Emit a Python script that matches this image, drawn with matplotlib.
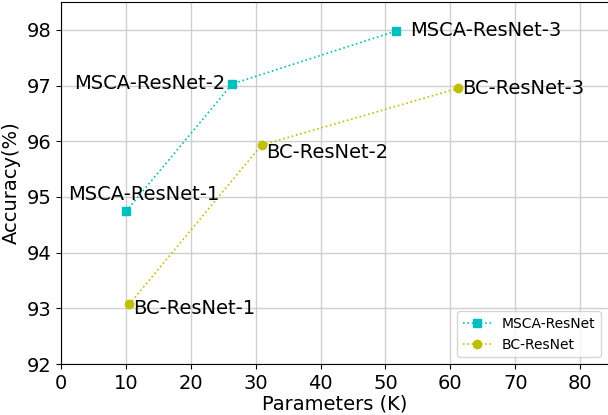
import matplotlib.pyplot as plt

msca_params = [10.0, 26.4, 51.7]
msca_acc = [94.74, 97.03, 97.98]
msca_names = ["MSCA-ResNet-1", "MSCA-ResNet-2", "MSCA-ResNet-3"]

bc_params = [10.5, 30.9, 61.2]
bc_acc = [93.07, 95.93, 96.95]
bc_names = ["BC-ResNet-1", "BC-ResNet-2", "BC-ResNet-3"]

x_ticks = [0, 10, 20, 30, 40, 50, 60, 70, 80]
y_ticks = [92, 93, 94, 95, 96, 97, 98]

fig = plt.figure(figsize=(6.08, 4.15), dpi=100)
ax = fig.add_axes([61 / 608, 51 / 415, 547 / 608, 362 / 415])

ax.plot(msca_params, msca_acc, ls=":", color="c", marker="s", ms=6,
        lw=1.2, label="MSCA-ResNet", zorder=3)
ax.plot(bc_params, bc_acc, ls=":", color="y", marker="o", ms=6,
        lw=1.2, label="BC-ResNet", zorder=3)

# label offsets (points) per model
msca_off = [(13, 12, "center"), (-5, 0, "right"), (10, 0, "left")]
bc_off = [(3, -3, "left"), (3, -5, "left"), (3, 0, "left")]
for x, y, name, (dx, dy, ha) in zip(msca_params, msca_acc, msca_names, msca_off):
    ax.annotate(name, (x, y), xytext=(dx, dy), textcoords="offset points",
                ha=ha, va="center", fontsize=14)
for x, y, name, (dx, dy, ha) in zip(bc_params, bc_acc, bc_names, bc_off):
    ax.annotate(name, (x, y), xytext=(dx, dy), textcoords="offset points",
                ha=ha, va="center", fontsize=14)

ax.set_xlim(0, 84.3)
ax.set_ylim(92, 98.5)
ax.set_xticks(x_ticks)
ax.set_yticks(y_ticks)
ax.tick_params(labelsize=14)
ax.set_xlabel("Parameters (K)", fontsize=14, labelpad=1)
ax.set_ylabel("Accuracy(%)", fontsize=14)
ax.grid(True, color="#d0d0d0", lw=1)
ax.set_axisbelow(True)
ax.spines["right"].set_visible(False)
ax.legend(loc="lower right", fontsize=10)

fig.savefig("out.png", dpi=100)
